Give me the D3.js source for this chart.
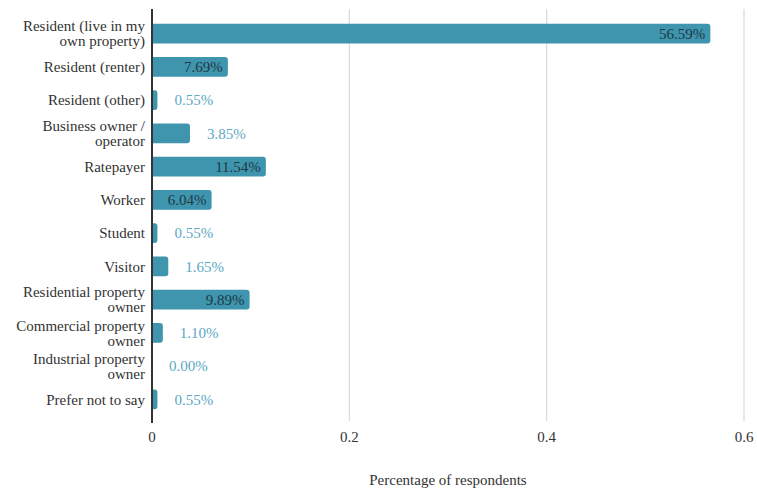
<!DOCTYPE html>
<html>
<head>
<meta charset="utf-8">
<script src="https://cdn.jsdelivr.net/npm/d3@7"></script>
<style>
  body { margin: 0; background: #fff; }
  text { font-family: 'Liberation Serif', 'DejaVu Serif', 'Noto Serif', Tinos, Times, serif; }
</style>
</head>
<body>
<div id="chart"></div>
<script>
const categories = [
  ["Resident (live in my", "own property)"],
  ["Resident (renter)"],
  ["Resident (other)"],
  ["Business owner /", "operator"],
  ["Ratepayer"],
  ["Worker"],
  ["Student"],
  ["Visitor"],
  ["Residential property", "owner"],
  ["Commercial property", "owner"],
  ["Industrial property", "owner"],
  ["Prefer not to say"]
];
const values = [0.5659, 0.0769, 0.0055, 0.0385, 0.1154, 0.0604, 0.0055, 0.0165, 0.0989, 0.0110, 0.0000, 0.0055];
const xTicks = [0, 0.2, 0.4, 0.6];
const xTitle = "Percentage of respondents";

const width = 757, height = 493;
const margin = {left: 152, right: 13, top: 17, bottom: 77};

const svg = d3.select('#chart').append('svg')
  .attr('width', width).attr('height', height);
const g = svg.append('g').attr('transform', `translate(${margin.left},${margin.top})`);

const xScale = d3.scaleLinear().domain([0, 0.6]).range([0, 592]);
const yScale = d3.scaleBand().domain(d3.range(categories.length)).range([0, 399])
  .paddingInner(0.4).paddingOuter(0.2);

// gridlines
g.selectAll('.grid')
  .data(xTicks.filter(d => d > 0))
  .join('line')
  .attr('x1', d => xScale(d)).attr('x2', d => xScale(d))
  .attr('y1', -8).attr('y2', 404)
  .attr('stroke', '#d9d9d9').attr('stroke-width', 1.2);

// bars, rounded on the right end only
const r = 3;
function barPath(w, h) {
  if (w <= 0) return '';
  const rr = Math.min(r, w);
  return `M0,0 H${w - rr} Q${w},0 ${w},${rr} V${h - rr} Q${w},${h} ${w - rr},${h} H0 Z`;
}
g.selectAll('.bar')
  .data(values)
  .join('path')
  .attr('class', 'bar')
  .attr('transform', (d, i) => `translate(0,${yScale(i)})`)
  .attr('d', d => barPath(xScale(d), yScale.bandwidth()))
  .attr('fill', '#3f95ad');

// value labels
g.selectAll('.val')
  .data(values)
  .join('text')
  .attr('class', 'val')
  .attr('x', d => d >= 0.05 ? xScale(d) - 5 : xScale(d) + 17)
  .attr('y', (d, i) => yScale(i) + yScale.bandwidth() / 2)
  .attr('dy', '0.35em')
  .attr('text-anchor', d => d >= 0.05 ? 'end' : 'start')
  .attr('fill', d => d >= 0.05 ? '#1d3947' : '#5aa8c2')
  .style('font-size', '15px')
  .text(d => (d * 100).toFixed(2) + '%');

// category labels
const cat = g.selectAll('.cat')
  .data(categories)
  .join('text')
  .attr('class', 'cat')
  .attr('text-anchor', 'end')
  .attr('fill', '#333')
  .style('font-size', '15px');
cat.each(function (lines, i) {
  const cy = yScale(i) + yScale.bandwidth() / 2;
  const t = d3.select(this);
  lines.forEach((ln, k) => {
    t.append('tspan')
      .attr('x', -7)
      .attr('y', cy + (k - (lines.length - 1) / 2) * 15)
      .attr('dy', '0.35em')
      .text(ln);
  });
});

// y axis line
g.append('line')
  .attr('x1', 0).attr('x2', 0)
  .attr('y1', -8).attr('y2', 406)
  .attr('stroke', '#333').attr('stroke-width', 2);

// x tick labels
g.selectAll('.tick')
  .data(xTicks)
  .join('text')
  .attr('x', d => xScale(d))
  .attr('y', 420)
  .attr('dy', '0.35em')
  .attr('text-anchor', 'middle')
  .attr('fill', '#333')
  .style('font-size', '15px')
  .text(d => d3.format('')(d));

g.append('text')
  .attr('x', xScale(0.3))
  .attr('y', 463)
  .attr('dy', '0.35em')
  .attr('text-anchor', 'middle')
  .attr('fill', '#333')
  .style('font-size', '15px')
  .text(xTitle);
</script>
</body>
</html>
